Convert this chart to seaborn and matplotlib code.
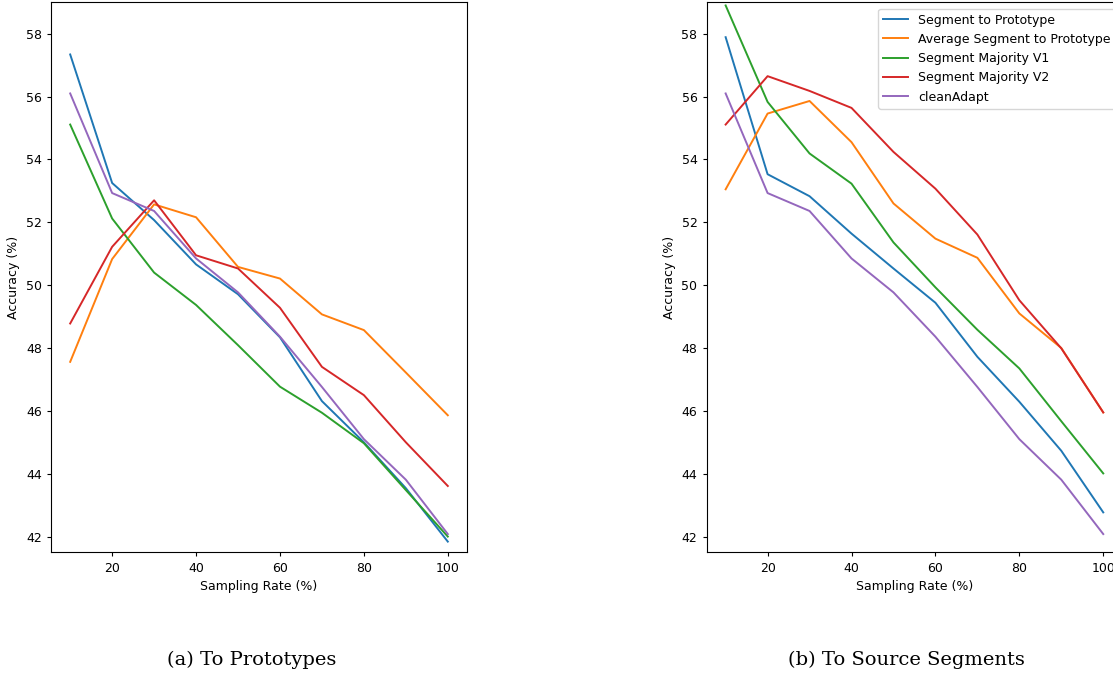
import matplotlib
matplotlib.use("Agg")
import matplotlib.pyplot as plt
import pandas as pd
import seaborn as sns

# Sampling rates (%) on the x axis
sampling_rate = [10, 20, 30, 40, 50, 60, 70, 80, 90, 100]

methods = [
    "Segment to Prototype",
    "Average Segment to Prototype",
    "Segment Majority V1",
    "Segment Majority V2",
    "cleanAdapt",
]

# (a) accuracy when matching to prototypes
proto_seg_to_proto = [57.34, 53.25, 52.07, 50.66, 49.71, 48.34, 46.31, 45.00, 43.54, 41.84]
proto_avg_seg_to_proto = [47.56, 50.83, 52.57, 52.16, 50.58, 50.21, 49.07, 48.57, 47.22, 45.86]
proto_majority_v1 = [55.11, 52.12, 50.40, 49.37, 48.09, 46.77, 45.94, 44.97, 43.48, 42.00]
proto_majority_v2 = [48.78, 51.22, 52.70, 50.95, 50.53, 49.28, 47.40, 46.50, 45.00, 43.61]
clean_adapt = [56.10, 52.93, 52.36, 50.85, 49.77, 48.36, 46.76, 45.10, 43.81, 42.08]

# (b) accuracy when matching to source segments
src_seg_to_proto = [57.89, 53.53, 52.83, 51.64, 50.53, 49.44, 47.72, 46.29, 44.73, 42.77]
src_avg_seg_to_proto = [53.05, 55.46, 55.86, 54.55, 52.60, 51.48, 50.87, 49.10, 48.00, 45.95]
src_majority_v1 = [58.90, 55.83, 54.19, 53.23, 51.36, 49.93, 48.58, 47.35, 45.67, 44.01]
src_majority_v2 = [55.11, 56.65, 56.18, 55.64, 54.24, 53.07, 51.61, 49.52, 47.99, 45.95]

captions = ["(a) To Prototypes", "(b) To Source Segments"]


def to_frame(series_list):
    rows = []
    for name, values in zip(methods, series_list):
        for x, y in zip(sampling_rate, values):
            rows.append({"Sampling Rate (%)": x, "Accuracy (%)": y, "Method": name})
    return pd.DataFrame(rows)


df_proto = to_frame([proto_seg_to_proto, proto_avg_seg_to_proto,
                     proto_majority_v1, proto_majority_v2, clean_adapt])
df_source = to_frame([src_seg_to_proto, src_avg_seg_to_proto,
                      src_majority_v1, src_majority_v2, clean_adapt])

palette = dict(zip(methods, sns.color_palette("tab10", 5)))

plt.rcParams.update({
    "font.size": 9,
    "axes.labelsize": 9,
    "xtick.labelsize": 9,
    "ytick.labelsize": 9,
    "legend.fontsize": 9,
    "xtick.major.size": 3.2,
    "ytick.major.size": 3.2,
})

fig = plt.figure(figsize=(11.13, 6.76), dpi=100)
ax_a = fig.add_axes([0.0461, 0.183, 0.3732, 0.8136])
ax_b = fig.add_axes([0.6350, 0.183, 0.3732, 0.8136])

for ax, df in ((ax_a, df_proto), (ax_b, df_source)):
    sns.lineplot(data=df, x="Sampling Rate (%)", y="Accuracy (%)", hue="Method",
                 hue_order=methods, palette=palette, linewidth=1.4, ax=ax,
                 legend=(ax is ax_b))
    ax.set_ylim(41.5, 59.0)
    ax.set_xticks([20, 40, 60, 80, 100])
    ax.set_yticks(range(42, 59, 2))

handles, labels = ax_b.get_legend_handles_labels()
for h in handles:
    h.set_linewidth(1.4)
ax_b.legend(handles, labels, loc="upper right", fontsize=9)

fig.text(252 / 1113, 1 - 660 / 676, captions[0], ha="center", va="center",
         family="DejaVu Serif", fontsize=14)
fig.text(906 / 1113, 1 - 660 / 676, captions[1], ha="center", va="center",
         family="DejaVu Serif", fontsize=14)

fig.savefig("out.png", dpi=100)
